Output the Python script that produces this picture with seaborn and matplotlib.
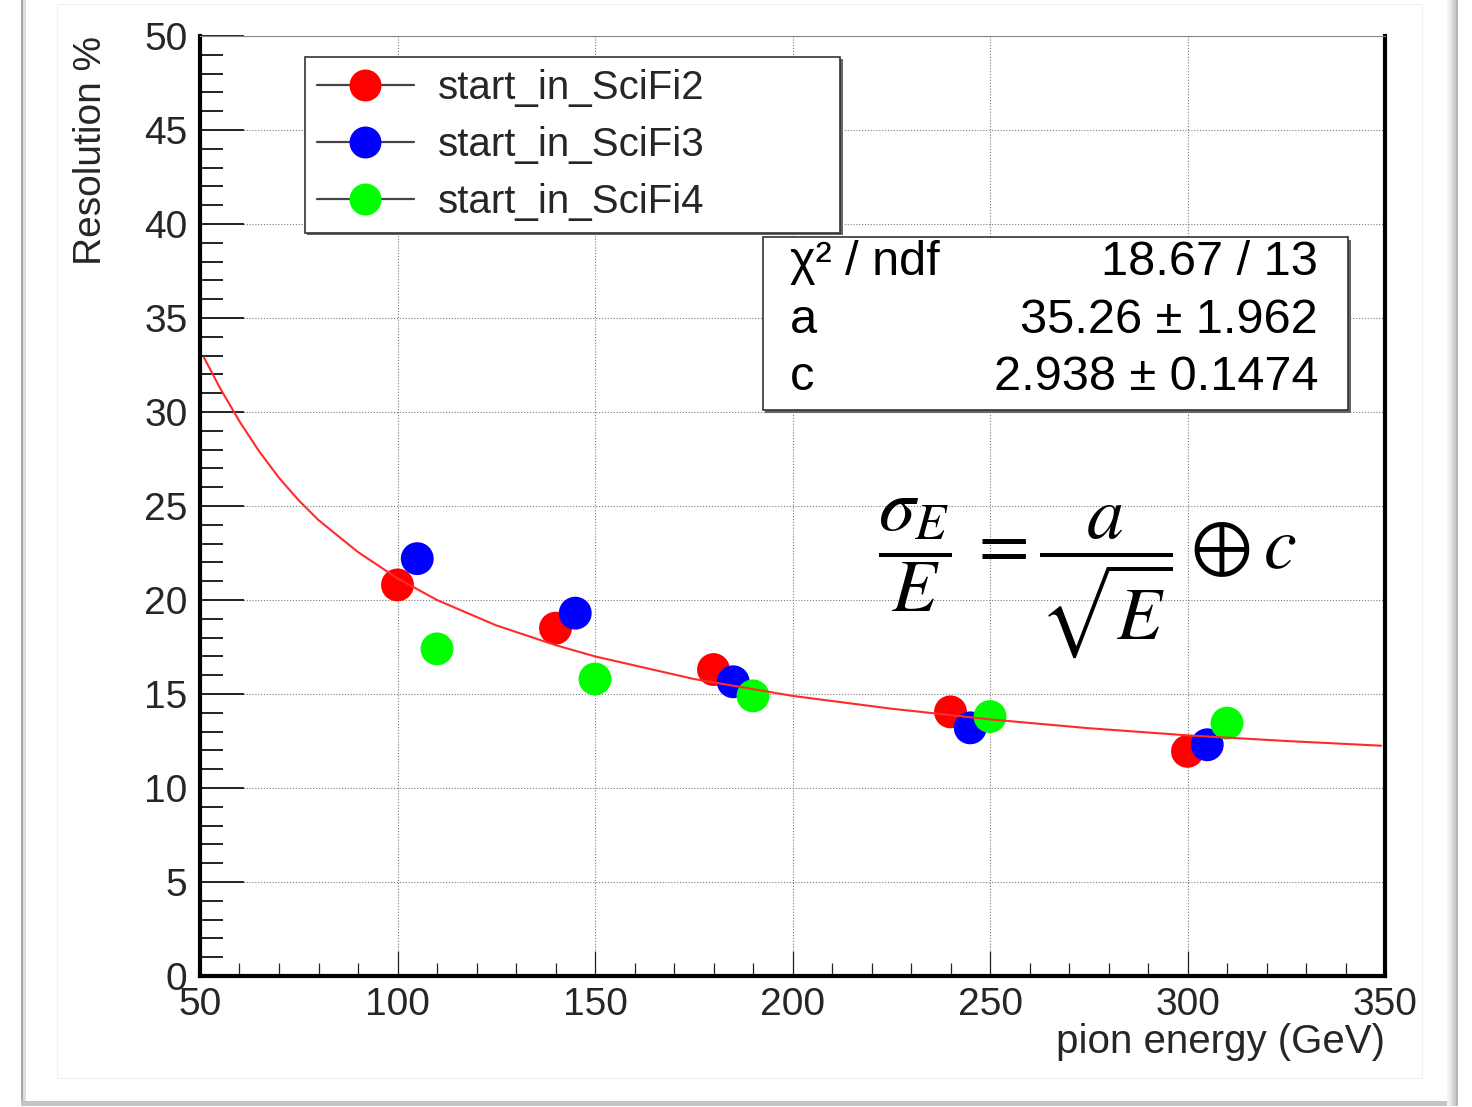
import numpy as np
import pandas as pd
import matplotlib
matplotlib.use("Agg")
import matplotlib.pyplot as plt
from matplotlib.patches import Rectangle
from matplotlib.lines import Line2D
from matplotlib.ticker import MultipleLocator
import seaborn as sns

# ---------------- data ----------------
series_names = ["start_in_SciFi2", "start_in_SciFi3", "start_in_SciFi4"]
series_colors = ["#ff0000", "#0000ff", "#00ff00"]

energy_scifi2 = [100, 140, 180, 240, 300]
res_scifi2 = [20.8, 18.5, 16.3, 14.05, 11.95]
energy_scifi3 = [105, 145, 185, 245, 305]
res_scifi3 = [22.2, 19.3, 15.65, 13.2, 12.3]
energy_scifi4 = [110, 150, 190, 250, 310]
res_scifi4 = [17.4, 15.8, 14.9, 13.8, 13.45]

fit_energy = [51, 55, 60, 65, 70, 75, 80, 90, 100, 110, 125, 140, 150, 175,
              200, 225, 250, 275, 300, 325, 349]
fit_res = [32.9, 31.3, 29.5, 27.9, 26.5, 25.3, 24.25, 22.55, 21.15, 20.0, 18.65,
           17.6, 17.0, 15.8, 14.9, 14.22, 13.65, 13.18, 12.8, 12.5, 12.25]

x_ticks = [50, 100, 150, 200, 250, 300, 350]
y_ticks = [0, 5, 10, 15, 20, 25, 30, 35, 40, 45, 50]

stats_names = ["\u03c7\u00b2 / ndf", "a", "c"]
stats_values = ["18.67 / 13", "35.26 \u00b1 1.962", "2.938 \u00b1 0.1474"]

x_label = "pion energy (GeV)"
y_label = "Resolution %"
formula = r"$\dfrac{\sigma_E}{E} \,= \dfrac{a}{\sqrt{E}} \oplus c$"

# ---------------- style ----------------
sns.set_theme(style="white")
plt.rcParams["font.family"] = ["Liberation Sans", "DejaVu Sans"]
plt.rcParams["mathtext.fontset"] = "stix"

W, H = 1472, 1107
fig = plt.figure(figsize=(W / 100, H / 100), dpi=100)
fig.patch.set_facecolor("white")


def fx(px):
    return px / W


def fy(py):
    return 1 - py / H


# window frame decorations (screenshot border)
fig.add_artist(Rectangle((fx(57), fy(1078)), fx(1422) - fx(57), fy(4) - fy(1078),
                         transform=fig.transFigure, fill=False, edgecolor="#f0f0f0", lw=0.8))
fig.add_artist(Rectangle((fx(21), fy(1105)), fx(2), fy(0) - fy(1105),
                         transform=fig.transFigure, color="#a8a8a8", lw=0))
fig.add_artist(Rectangle((fx(23), fy(1105)), fx(3), fy(0) - fy(1105),
                         transform=fig.transFigure, color="#dcdcdc", lw=0))
fig.add_artist(Rectangle((fx(21), fy(1106)), fx(1458) - fx(21), fy(1101) - fy(1106),
                         transform=fig.transFigure, color="#c4c4c4", lw=0))
for i, c in enumerate(["#f4f4f4", "#ececec", "#e2e2e2", "#d6d6d6", "#c8c8c8", "#b4b4b4"]):
    x0 = 1447 + i * 1.8
    fig.add_artist(Rectangle((fx(x0), fy(1106)), fx(1.9), fy(0) - fy(1106),
                             transform=fig.transFigure, color=c, lw=0))

ax = fig.add_axes([fx(200), fy(976), fx(1385) - fx(200), fy(36) - fy(976)])
ax.set_facecolor("white")

df = pd.DataFrame({
    "energy": energy_scifi2 + energy_scifi3 + energy_scifi4,
    "res": res_scifi2 + res_scifi3 + res_scifi4,
    "series": [series_names[0]] * len(energy_scifi2)
    + [series_names[1]] * len(energy_scifi3)
    + [series_names[2]] * len(energy_scifi4),
})
palette = dict(zip(series_names, series_colors))

sns.scatterplot(data=df, x="energy", y="res", hue="series", palette=palette,
                s=560, edgecolor="none", linewidth=0, legend=False, ax=ax, zorder=3)
sns.lineplot(x=fit_energy, y=fit_res, color="#ff2b2b", lw=1.5, ax=ax, zorder=4,
             sort=False, estimator=None)

ax.set_xlim(50, 350)
ax.set_ylim(0, 50)
ax.set_xticks(x_ticks)
ax.set_yticks(y_ticks)
ax.set_xticklabels([str(v) for v in x_ticks])
ax.set_yticklabels([str(v) for v in y_ticks])
ax.xaxis.set_minor_locator(MultipleLocator(10))
ax.yaxis.set_minor_locator(MultipleLocator(1))

ax.tick_params(axis="y", which="major", direction="in", length=32, width=1.4,
               color="#222222", labelsize=28, pad=9, left=True, right=False)
ax.tick_params(axis="y", which="minor", direction="in", length=16.5, width=1.4,
               color="#222222", left=True, right=False)
ax.tick_params(axis="x", which="major", direction="in", length=18, width=0.9,
               color="#222222", labelsize=28, pad=8, bottom=True, top=False)
ax.tick_params(axis="x", which="minor", direction="in", length=9.5, width=0.9,
               color="#222222", bottom=True, top=False)

ax.grid(True, which="major", color="#7a7a7a", linestyle=(0, (1, 1.6)), linewidth=0.8)
ax.grid(False, which="minor")

for side in ["left", "bottom", "right"]:
    ax.spines[side].set_color("black")
    ax.spines[side].set_linewidth(3)
ax.spines["top"].set_color("#888888")
ax.spines["top"].set_linewidth(0.8)

ax.set_xlabel(x_label, fontsize=29, loc="right")
ax.xaxis.set_label_coords(1.0, -0.050)
ax.set_ylabel(y_label, fontsize=28, loc="top")
ax.yaxis.set_label_coords(-0.077, 1.0)

# ---------------- legend ----------------
handles = [Line2D([0], [0], color="#444444", lw=1.6, marker="o", markersize=22,
                  markerfacecolor=c, markeredgecolor=c) for c in series_colors]
leg_x0, leg_y0, leg_w, leg_h = 0.0886, 0.7947, 0.4515, 0.183
leg = ax.legend(handles, series_names, loc="upper left",
                bbox_to_anchor=(leg_x0, leg_y0, leg_w, leg_h), mode="expand",
                fontsize=29, frameon=True, fancybox=False, borderpad=0.3,
                labelspacing=0.47, handlelength=2.4, handletextpad=0.6,
                borderaxespad=0.0)
leg.get_frame().set_edgecolor("#333333")
leg.get_frame().set_linewidth(1.2)
leg.get_frame().set_facecolor("white")
leg.get_frame().set_alpha(1)
leg.set_zorder(7)

fig.canvas.draw()
renderer = fig.canvas.get_renderer()
lb = leg.get_frame().get_window_extent(renderer)
inv = ax.transAxes.inverted()
(lx0, ly0), (lx1, ly1) = inv.transform([[lb.x0 + 2.5, lb.y0 - 2.5], [lb.x1 + 2.5, lb.y1 - 2.5]])
ax.add_patch(Rectangle((lx0, ly0), lx1 - lx0, ly1 - ly0, transform=ax.transAxes,
                       facecolor="#666666", edgecolor="none", zorder=6))

# ---------------- fit statistics box ----------------
sx0, sy0, sw, sh = 0.475, 0.602, 0.494, 0.184
dx = 2.5 / (1385 - 200)
dy = 2.5 / (976 - 36)
ax.add_patch(Rectangle((sx0 + dx, sy0 - dy), sw, sh, transform=ax.transAxes,
                       facecolor="#666666", edgecolor="none", zorder=6))
ax.add_patch(Rectangle((sx0, sy0), sw, sh, transform=ax.transAxes,
                       facecolor="white", edgecolor="#333333", lw=1.2, zorder=7))
row_base = [0.7457, 0.6840, 0.6234]
for name, val, yb in zip(stats_names, stats_values, row_base):
    ax.text(0.4979, yb, name, transform=ax.transAxes, fontsize=35, ha="left",
            va="baseline", zorder=8, color="black")
    ax.text(0.9435, yb, val, transform=ax.transAxes, fontsize=35, ha="right",
            va="baseline", zorder=8, color="black")

# ---------------- formula ----------------
ax.text(0.7485, 0.423, formula, transform=ax.transAxes, fontsize=53,
        ha="center", va="center", zorder=8, color="black")

fig.savefig("out.png", dpi=100, facecolor="white")
